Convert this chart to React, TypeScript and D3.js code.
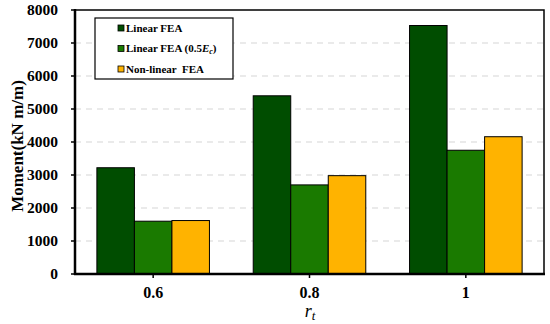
import React from "react";
import * as d3 from "d3";

const categories = ["0.6", "0.8", "1"];
const seriesNames = ["Linear FEA", "Linear FEA (0.5E_c)", "Non-linear  FEA"];
const linearFEA = [3220, 5400, 7530];
const linearFEAHalf = [1600, 2700, 3750];
const nonLinearFEA = [1620, 2980, 4160];
const yTicks = [0, 1000, 2000, 3000, 4000, 5000, 6000, 7000, 8000];
const colors = ["#004d00", "#1a7a00", "#ffb300"];

const W = 550, H = 324;
const M = { left: 75, right: 6, top: 10, bottom: 50 };

export default function App() {
  const series = [linearFEA, linearFEAHalf, nonLinearFEA];
  const x = d3.scaleBand().domain(categories).range([M.left, W - M.right]).paddingInner(0.28).paddingOuter(0.14);
  const inner = d3.scaleBand().domain(["0", "1", "2"]).range([0, x.bandwidth()]);
  const y = d3.scaleLinear().domain([0, 8000]).range([H - M.bottom, M.top]);
  const font = "'Times New Roman', 'Liberation Serif', serif";
  const x0 = M.left, x1 = W - M.right, yb = y(0), yt = y(8000);
  return (
    <svg width={W} height={H} style={{ position: "absolute", left: 0, top: 0, background: "#fff" }} fontFamily={font}>
      {yTicks.filter(t => t > 0 && t < 8000).map(t => (
        <line key={"g" + t} x1={x0} x2={x1} y1={y(t)} y2={y(t)} stroke="#d6d6d6" strokeWidth={1.2} strokeDasharray="6,5" />
      ))}
      {categories.map((c, i) =>
        series.map((s, j) => (
          <rect key={c + j} x={(x(c) as number) + (inner(String(j)) as number)} y={y(s[i])} width={inner.bandwidth()} height={yb - y(s[i])} fill={colors[j]} stroke="#000" strokeWidth={1} />
        ))
      )}
      <rect x={x0} y={yt} width={x1 - x0} height={yb - yt} fill="none" stroke="#000" strokeWidth={1.5} />
      <line x1={x0} x2={x0} y1={yt - 1} y2={yb + 1} stroke="#000" strokeWidth={2.5} />
      <line x1={x0 - 1} x2={x1 + 1} y1={yb} y2={yb} stroke="#000" strokeWidth={2.5} />
      {yTicks.map(t => (
        <g key={"t" + t}>
          <line x1={x0 - 4} x2={x0} y1={y(t)} y2={y(t)} stroke="#000" strokeWidth={1.5} />
          <text x={58} y={y(t)} dy="0.35em" textAnchor="end" fontSize={15.5} fontWeight="bold">{t}</text>
        </g>
      ))}
      {categories.map(c => {
        const cx = (x(c) as number) + x.bandwidth() / 2;
        return (
          <g key={"x" + c}>
            <line x1={cx} x2={cx} y1={yb} y2={yb + 4} stroke="#000" strokeWidth={1.5} />
            <text x={cx} y={298} textAnchor="middle" fontSize={16} fontWeight="bold">{c}</text>
          </g>
        );
      })}
      <text x={310} y={317} textAnchor="middle" fontSize={18} fontStyle="italic">r<tspan fontSize={13} dy={3}>t</tspan></text>
      <text transform={`translate(23,146) rotate(-90)`} textAnchor="middle" fontSize={17} fontWeight="bold">Moment(kN m/m)</text>
      <rect x={95} y={18} width={138} height={61} fill="#fff" stroke="#000" strokeWidth={1.2} />
      {seriesNames.map((n, j) => {
        const ly = 28 + j * 20.5;
        return (
          <g key={"l" + j}>
            <rect x={118} y={ly - 3} width={6} height={6} fill={colors[j]} stroke="#000" strokeWidth={0.8} />
            <text x={126} y={ly} dy="0.35em" fontSize={11} fontWeight="bold" style={{ whiteSpace: "pre" }}>
              {j === 1 ? (<>Linear FEA (0.5<tspan fontStyle="italic">E</tspan><tspan fontStyle="italic" fontSize={8} dy={2}>c</tspan><tspan dy={-2}>)</tspan></>) : n}
            </text>
          </g>
        );
      })}
    </svg>
  );
}
